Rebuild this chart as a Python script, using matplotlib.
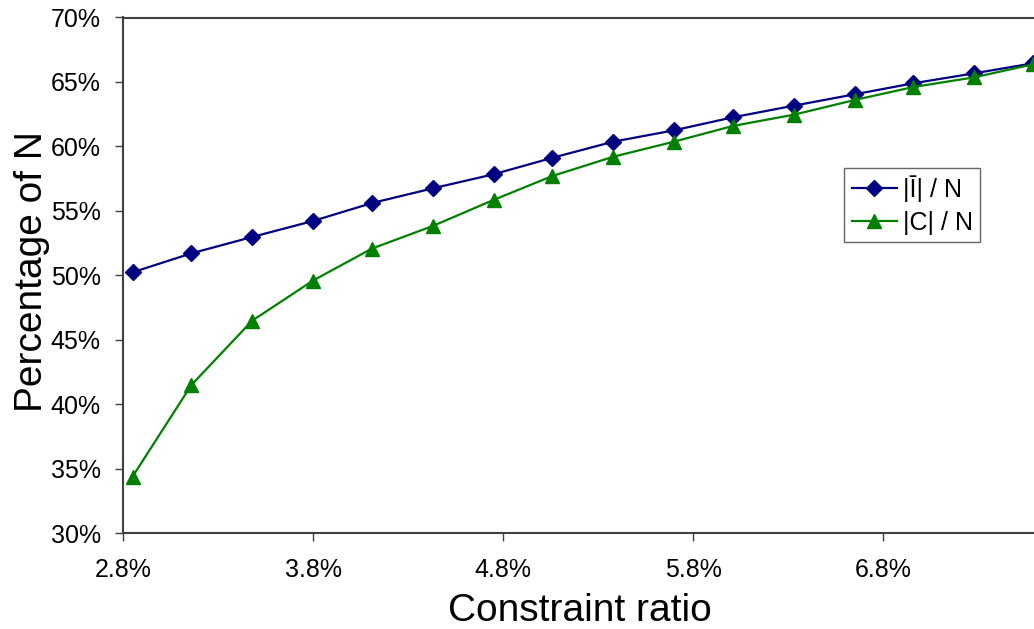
import matplotlib
matplotlib.use("Agg")
import matplotlib.pyplot as plt
from matplotlib.ticker import FuncFormatter

plt.rcParams['font.family'] = ['Liberation Sans', 'DejaVu Sans']

# Data (percent)
constraint_ratio = [2.85, 3.16, 3.48, 3.80, 4.11, 4.43, 4.75, 5.06,
                    5.38, 5.70, 6.01, 6.33, 6.65, 6.96, 7.28, 7.59]
i_bar_over_n = [50.24, 51.71, 52.98, 54.22, 55.61, 56.75, 57.84, 59.12,
                60.37, 61.25, 62.26, 63.16, 64.04, 64.90, 65.67, 66.45]
c_over_n = [34.39, 41.50, 46.49, 49.60, 52.08, 53.83, 55.85, 57.71,
            59.20, 60.37, 61.59, 62.46, 63.60, 64.61, 65.36, 66.37]
series_labels = ["|\u012a| / N", "|C| / N"]
x_ticks = [2.8, 3.8, 4.8, 5.8, 6.8]
y_ticks = [30, 35, 40, 45, 50, 55, 60, 65, 70]

W, H = 1034, 629
fig = plt.figure(figsize=(W / 100, H / 100), dpi=100)
left, right, top, bottom = 123, 1073, 17.5, 533.3
ax = fig.add_axes([left / W, 1 - bottom / H, (right - left) / W, (bottom - top) / H])

ax.plot(constraint_ratio, i_bar_over_n, color='#000080', lw=1.6, marker='D',
        ms=8.5, label=series_labels[0])
ax.plot(constraint_ratio, c_over_n, color='#008000', lw=1.6, marker='^',
        ms=10.5, label=series_labels[1])

ax.set_xlim(2.8, 7.8)
ax.set_ylim(30, 70)
ax.set_xticks(x_ticks)
ax.set_yticks(y_ticks)
ax.xaxis.set_major_formatter(FuncFormatter(lambda v, p: f"{v:.1f}%"))
ax.yaxis.set_major_formatter(FuncFormatter(lambda v, p: f"{v:.0f}%"))

for s in ax.spines.values():
    s.set_color('#404040')
    s.set_linewidth(1.5)
ax.tick_params(axis='both', direction='out', length=6, width=1.0,
               colors='#404040', labelcolor='black', labelsize=18)
ax.tick_params(axis='y', pad=10)
ax.tick_params(axis='x', pad=12)

ax.set_xlabel("Constraint ratio", fontsize=28)
ax.set_ylabel("Percentage of N", fontsize=28)
ax.xaxis.set_label_coords(0.481, -0.116)
ax.yaxis.set_label_coords(-0.077, 0.507)

leg = fig.legend(loc='upper left', bbox_to_anchor=(844 / W, 1 - 168 / H),
                 bbox_transform=fig.transFigure, fontsize=18, frameon=True,
                 fancybox=False, borderaxespad=0, handlelength=1.8,
                 handletextpad=0.25, labelspacing=0.35, borderpad=0.3)
leg.get_frame().set_edgecolor('#404040')
leg.get_frame().set_linewidth(1.0)

fig.savefig("out.png", dpi=100)
